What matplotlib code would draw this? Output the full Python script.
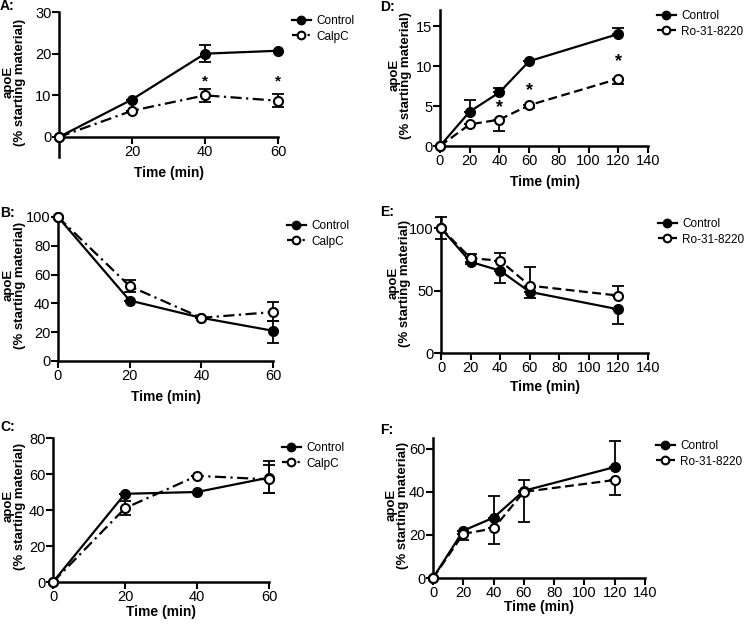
import matplotlib
matplotlib.use("Agg")
import matplotlib.pyplot as plt
from matplotlib import font_manager
import numpy as np

plt.rcParams['font.family'] = ['Liberation Sans', 'DejaVu Sans']
_names = {f.name for f in font_manager.fontManager.ttflist}
if 'Liberation Sans Narrow' in _names:
    TICK_FAMILY, TICK_SIZE = 'Liberation Sans Narrow', 11.5
else:
    TICK_FAMILY, TICK_SIZE = 'Liberation Sans', 10.5

# ---------------- data ----------------
t60 = [0, 20, 40, 60]
t120 = [0, 20, 40, 60, 120]

# Panel A (CalpC, secreted)
A_ctrl = [0, 9.0, 20.0, 20.7]
A_ctrl_lo = [0, 0, 2.0, 0]
A_ctrl_hi = [0, 0, 2.0, 0]
A_calp = [0, 6.3, 10.0, 8.7]
A_calp_lo = [0, 0, 1.5, 1.6]
A_calp_hi = [0, 0, 1.5, 1.6]
A_star_x = [40, 60]
A_star_y = [13.4, 13.4]

# Panel B
B_ctrl = [100, 42, 30, 21]
B_ctrl_lo = [0, 0, 0, 8.5]
B_ctrl_hi = [0, 0, 0, 7.0]
B_calp = [100, 52, 30, 34]
B_calp_lo = [0, 4, 0, 6.5]
B_calp_hi = [0, 4, 0, 7.0]

# Panel C
C_ctrl = [0, 49, 50, 58]
C_ctrl_lo = [0, 0, 0, 8.5]
C_ctrl_hi = [0, 0, 0, 9.0]
C_calp = [0, 41, 59, 57]
C_calp_lo = [0, 4, 0, 7.5]
C_calp_hi = [0, 4, 0, 8.0]

# Panel D (Ro-31-8220, secreted)
D_ctrl = [0, 4.3, 6.7, 10.6, 14.0]
D_ctrl_lo = [0, 0, 0, 0, 0]
D_ctrl_hi = [0, 1.5, 0.5, 0, 0.8]
D_ro = [0, 2.7, 3.3, 5.1, 8.4]
D_ro_lo = [0, 0, 1.4, 0.3, 0.6]
D_ro_hi = [0, 0, 0, 0, 0]
D_star_x = [40, 60, 120]
D_star_y = [4.8, 6.9, 10.5]

# Panel E
E_ctrl = [100, 73, 66, 49, 35]
E_ctrl_lo = [9, 2, 10, 5, 12]
E_ctrl_hi = [9, 0, 0, 0, 0]
E_ro = [100, 76, 74, 54, 46]
E_ro_lo = [0, 0, 0, 0, 0]
E_ro_hi = [0, 3, 6, 15, 8]

# Panel F
F_ctrl = [0, 22, 28, 40.5, 51.5]
F_ctrl_lo = [0, 0, 0, 0, 0]
F_ctrl_hi = [0, 0, 10, 5, 12]
F_ro = [0, 20.5, 23, 40, 45.5]
F_ro_lo = [0, 3, 7, 14, 7]
F_ro_hi = [0, 0, 0, 0, 0]

ylabel = "apoE\n(% starting material)"
xlabel = "Time (min)"

W, H = 745, 626
fig = plt.figure(figsize=(W / 100, H / 100), dpi=100)


def add_axes(l, r, t, b):
    return fig.add_axes([l / W, 1 - b / H, (r - l) / W, (b - t) / H])


LW = 1.6
MS = 6.5


def series(ax, x, y, lo, hi, style, filled, label):
    ax.errorbar(x, y, yerr=[lo, hi], fmt='none', ecolor='black', elinewidth=1.3,
                capsize=4, capthick=1.3, clip_on=False, zorder=2)
    ax.plot(x, y, linestyle=style, color='black', lw=LW, marker='o', ms=MS,
            mfc='black' if filled else 'white', mec='black', mew=1.5,
            clip_on=False, zorder=3, label=label)


def style_axes(ax, xticks, yticks, xlim, ylim, xlab_xy, ylab_xy):
    for s in ['top', 'right']:
        ax.spines[s].set_visible(False)
    for s in ['left', 'bottom']:
        ax.spines[s].set_linewidth(1.8)
    ax.set_xticks(xticks)
    ax.set_yticks(yticks)
    ax.set_xlim(*xlim)
    ax.set_ylim(*ylim)
    ax.tick_params(direction='out', length=5, width=1.5, labelsize=TICK_SIZE, pad=1)
    ax.tick_params(axis='y', pad=0.5)
    for lbl in ax.get_xticklabels() + ax.get_yticklabels():
        lbl.set_fontfamily(TICK_FAMILY)
    ax.set_xlabel(xlabel, fontsize=10, fontweight='bold')
    ax.set_ylabel(ylabel, fontsize=9.5, fontweight='bold', linespacing=0.95)
    ax.xaxis.set_label_coords(xlab_xy[0] / W, 1 - xlab_xy[1] / H, transform=fig.transFigure)
    ax.xaxis.label.set_va('center')
    ax.yaxis.set_label_coords(ylab_xy[0] / W, 1 - ylab_xy[1] / H, transform=fig.transFigure)


def legend(ax, x, y):
    h, l = ax.get_legend_handles_labels()
    ax.legend(h, l, loc='upper left', bbox_to_anchor=(x / W, 1 - y / H),
              bbox_transform=fig.transFigure, frameon=False, fontsize=8.5,
              handlelength=1.6, handletextpad=0.45, labelspacing=0.3,
              borderpad=0, borderaxespad=0, markerscale=0.85)


dashdot = (0, (5, 2, 1, 2))
dashed = (0, (4, 2))
x60 = [0, 20, 40, 60]
x140 = [0, 20, 40, 60, 80, 100, 120, 140]

# A
ax = add_axes(59, 278, 12, 157)
series(ax, t60, A_ctrl, A_ctrl_lo, A_ctrl_hi, '-', True, 'Control')
series(ax, t60, A_calp, A_calp_lo, A_calp_hi, dashdot, False, 'CalpC')
style_axes(ax, [20, 40, 60], [0, 10, 20, 30], (0, 60), (-4.8, 30), (169, 173), (26, 82))
ax.spines['bottom'].set_position(('data', 0))
for sx, sy in zip(A_star_x, A_star_y):
    ax.text(sx, sy, '*', ha='center', va='center', fontsize=11, fontweight='bold')
legend(ax, 292, 15)

# B
ax = add_axes(58, 273, 217, 361)
series(ax, t60, B_ctrl, B_ctrl_lo, B_ctrl_hi, '-', True, 'Control')
series(ax, t60, B_calp, B_calp_lo, B_calp_hi, dashdot, False, 'CalpC')
style_axes(ax, x60, [0, 20, 40, 60, 80, 100], (0, 60), (0, 100), (166, 397), (26, 285))
legend(ax, 287, 220)

# C
ax = add_axes(53, 269, 438, 582)
series(ax, t60, C_ctrl, C_ctrl_lo, C_ctrl_hi, '-', True, 'Control')
series(ax, t60, C_calp, C_calp_lo, C_calp_hi, dashdot, False, 'CalpC')
style_axes(ax, x60, [0, 20, 40, 60, 80], (0, 60), (0, 80), (161, 612), (26, 506))
legend(ax, 282, 442)

# D
ax = add_axes(440, 648, 10, 146)
series(ax, t120, D_ctrl, D_ctrl_lo, D_ctrl_hi, '-', True, 'Control')
series(ax, t120, D_ro, D_ro_lo, D_ro_hi, dashed, False, 'Ro-31-8220')
style_axes(ax, x140, [0, 5, 10, 15], (0, 140), (0, 17), (545, 182), (412, 75))
for sx, sy in zip(D_star_x, D_star_y):
    ax.text(sx, sy, '*', ha='center', va='center', fontsize=13, fontweight='bold')
legend(ax, 657, 10)

# E
ax = add_axes(441, 648, 217, 353)
series(ax, t120, E_ctrl, E_ctrl_lo, E_ctrl_hi, '-', True, 'Control')
series(ax, t120, E_ro, E_ro_lo, E_ro_hi, dashed, False, 'Ro-31-8220')
style_axes(ax, x140, [0, 50, 100], (0, 140), (0, 109), (545, 387), (411, 283))
legend(ax, 658, 218)

# F
ax = add_axes(433, 645, 438, 578)
series(ax, t120, F_ctrl, F_ctrl_lo, F_ctrl_hi, '-', True, 'Control')
series(ax, t120, F_ro, F_ro_lo, F_ro_hi, dashed, False, 'Ro-31-8220')
style_axes(ax, x140, [0, 20, 40, 60], (0, 140), (0, 65), (539, 607), (409, 505))
legend(ax, 656, 440)

# panel letters
for lab, x, y in [('A:', 0, 6), ('B:', 0, 213), ('C:', 0, 427),
                  ('D:', 380, 7), ('E:', 380, 212), ('F:', 380, 430)]:
    fig.text(x / W, 1 - y / H, lab, fontsize=10, fontweight='bold', va='center', ha='left')

fig.savefig('out.png', dpi=100)
